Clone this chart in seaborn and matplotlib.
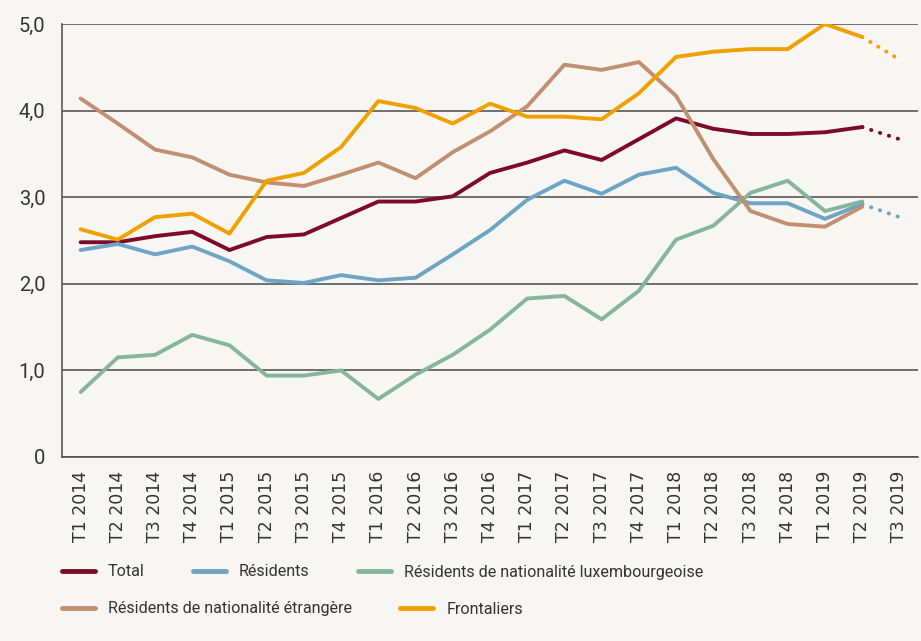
import numpy as np
import pandas as pd
import matplotlib
matplotlib.use("Agg")
import matplotlib.pyplot as plt
import seaborn as sns
from matplotlib.lines import Line2D

quarters = ["T1 2014", "T2 2014", "T3 2014", "T4 2014",
            "T1 2015", "T2 2015", "T3 2015", "T4 2015",
            "T1 2016", "T2 2016", "T3 2016", "T4 2016",
            "T1 2017", "T2 2017", "T3 2017", "T4 2017",
            "T1 2018", "T2 2018", "T3 2018", "T4 2018",
            "T1 2019", "T2 2019", "T3 2019"]

# observed values (T1 2014 .. T2 2019)
total = [2.48, 2.48, 2.55, 2.60, 2.39, 2.54, 2.57, 2.76, 2.95, 2.95, 3.01,
         3.28, 3.40, 3.54, 3.43, 3.67, 3.91, 3.79, 3.73, 3.73, 3.75, 3.81]
residents = [2.39, 2.46, 2.34, 2.43, 2.26, 2.04, 2.01, 2.10, 2.04, 2.07, 2.34,
             2.62, 2.97, 3.19, 3.04, 3.26, 3.34, 3.05, 2.93, 2.93, 2.75, 2.92]
res_lux = [0.75, 1.15, 1.18, 1.41, 1.29, 0.94, 0.94, 1.00, 0.67, 0.95, 1.18,
           1.47, 1.83, 1.86, 1.59, 1.92, 2.51, 2.67, 3.05, 3.19, 2.84, 2.95]
res_etr = [4.14, 3.85, 3.55, 3.46, 3.26, 3.17, 3.13, 3.26, 3.40, 3.22, 3.52,
           3.76, 4.05, 4.53, 4.47, 4.56, 4.17, 3.44, 2.84, 2.69, 2.66, 2.89]
frontaliers = [2.63, 2.51, 2.77, 2.81, 2.58, 3.19, 3.28, 3.58, 4.11, 4.03, 3.85,
               4.08, 3.93, 3.93, 3.90, 4.20, 4.62, 4.68, 4.71, 4.71, 5.00, 4.85]

# forecast T3 2019 (dotted)
total_fc = 3.67
residents_fc = 2.77
frontaliers_fc = 4.59

names = ["Total", "Résidents", "Résidents de nationalité luxembourgeoise",
         "Résidents de nationalité étrangère", "Frontaliers"]
colors = ["#7d0a2c", "#6fa5c4", "#86b59c", "#c38f72", "#f0a100"]
palette = dict(zip(names, colors))

series = [total, residents, res_lux, res_etr, frontaliers]
rows = []
for name, vals in zip(names, series):
    for i, v in enumerate(vals):
        rows.append((i, v, name))
df = pd.DataFrame(rows, columns=["x", "value", "serie"])

fc_rows = []
for name, vals, fc in [("Total", total, total_fc),
                       ("Résidents", residents, residents_fc),
                       ("Frontaliers", frontaliers, frontaliers_fc)]:
    fc_rows.append((len(vals) - 1, vals[-1], name))
    fc_rows.append((len(vals), fc, name))
df_fc = pd.DataFrame(fc_rows, columns=["x", "value", "serie"])

bg = "#f7f6f2"
sns.set_style("white")
plt.rcParams["font.family"] = ["Roboto", "DejaVu Sans"]

fig = plt.figure(figsize=(9.21, 6.41), dpi=100, facecolor=bg)
ax = fig.add_axes([62 / 921, 1 - 457 / 641, (918 - 62) / 921, (457 - 24) / 641])
ax.set_facecolor(bg)

sns.lineplot(data=df, x="x", y="value", hue="serie", hue_order=names,
             palette=palette, linewidth=2.8, legend=False, ax=ax, zorder=3)
sns.lineplot(data=df_fc, x="x", y="value", hue="serie",
             hue_order=["Total", "Résidents", "Frontaliers"],
             palette=palette, linewidth=2.8, legend=False, ax=ax, zorder=3)
for ln in ax.lines[5:]:
    ln.set_linestyle((0, (0.1, 2.3)))
    ln.set_dash_capstyle("round")

ax.set_xlim(-0.5, len(quarters) - 0.5)
ax.set_ylim(0, 5)
ax.set_yticks([0, 1, 2, 3, 4, 5])
ax.set_yticklabels(["0", "1,0", "2,0", "3,0", "4,0", "5,0"],
                   fontsize=14.5, color="#333333")
ax.yaxis.grid(True, color="#4a4a4a", linewidth=1.1)
ax.set_axisbelow(True)

ax.set_xticks(np.arange(len(quarters)))
ax.set_xticklabels(quarters, rotation=90, fontsize=12.5, color="#333333",
                   family=["DejaVu Sans"])
ax.set_xticks(np.arange(len(quarters) + 1) - 0.5, minor=True)
ax.tick_params(axis="x", which="major", length=0, pad=10)
ax.tick_params(axis="x", which="minor", length=7, width=1.1, color="#4a4a4a")
ax.tick_params(axis="y", length=6, width=1.1, color="#4a4a4a", pad=6)
ax.set_xlabel("")
ax.set_ylabel("")

for s in ["top", "right"]:
    ax.spines[s].set_visible(False)
for s in ["left", "bottom"]:
    ax.spines[s].set_color("#4a4a4a")
    ax.spines[s].set_linewidth(1.1)

def handles(sel):
    return [Line2D([0], [0], color=palette[n], lw=3.5, solid_capstyle="round") for n in sel]

legend_kw = dict(loc="center left", frameon=False, borderpad=0, borderaxespad=0,
                 handlelength=2.05, handletextpad=0.8, columnspacing=3.0,
                 prop={"family": "Roboto", "size": 11.6})
row1 = names[:3]
row2 = names[3:]
leg1 = fig.legend(handles(row1), row1, ncol=3,
                  bbox_to_anchor=(62 / 921, 1 - 572 / 641), **legend_kw)
leg2 = fig.legend(handles(row2), row2, ncol=2,
                  bbox_to_anchor=(62 / 921, 1 - 609 / 641), **legend_kw)
for leg in (leg1, leg2):
    for t in leg.get_texts():
        t.set_color("#333333")

fig.savefig("out.png", dpi=100, facecolor=bg)
